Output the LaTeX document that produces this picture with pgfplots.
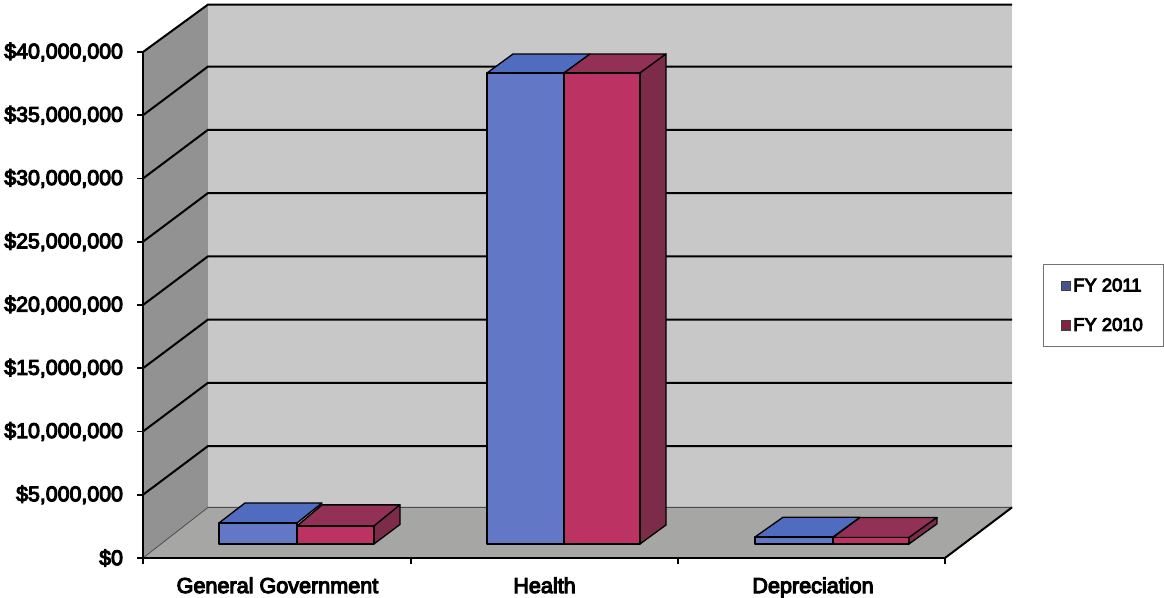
\documentclass[border=0pt]{standalone}
\usepackage{fontspec}
\setmainfont[RawFeature={embolden=5}]{Liberation Sans}
\usepackage{pgfplots}
\pgfplotsset{compat=1.18}

% y is in millions of dollars, x is in picture pixels (1px = 0.75pt)
\definecolor{wallc}{HTML}{C9C8C8}
\definecolor{sidec}{HTML}{929292}
\definecolor{floorc}{HTML}{A6A6A4}
\definecolor{bluef}{HTML}{6278C6}
\definecolor{bluet}{HTML}{4F6CC0}
\definecolor{redf}{HTML}{BC3262}
\definecolor{redt}{HTML}{923056}
\definecolor{reds}{HTML}{7C2C48}

\pgfplotsset{
  face/.style={draw=black,line width=1pt,line join=round,fill=#1,forget plot},
  gridl/.style={draw=black,line width=1.5pt,forget plot},
}

\begin{document}
\begin{tikzpicture}
\path[use as bounding box] (0,0) rectangle (873pt,448.5pt);
\begin{axis}[
  at={(107.25pt,30pt)},anchor=south west,
  scale only axis,width=601.5pt,height=379.5pt,
  xmin=143,xmax=945,ymin=0,ymax=40,
  clip=false,axis on top,
  axis x line*=bottom,axis y line*=left,
  axis line style={line width=1.4pt,-},
  tick style={black,line width=1.2pt},
  tick align=outside,major tick length=4.5pt,
  xtick={143,411,678,945},xticklabels={},
  extra x ticks={277.5,544.5,813},
  extra x tick labels={General Government,Health,Depreciation},
  extra x tick style={major tick length=0pt,
    xticklabel style={font=\fontsize{16.2}{18}\selectfont,yshift=-11pt}},
  ytick={0,5,10,15,20,25,30,35,40},
  yticklabels={{\$0},{\$5,000,000},{\$10,000,000},{\$15,000,000},{\$20,000,000},{\$25,000,000},{\$30,000,000},{\$35,000,000},{\$40,000,000}},
  yticklabel style={font=\fontsize{16}{18}\selectfont,xshift=-7pt},
  legend style={at={(axis cs:1043,23.24)},anchor=north west,
    draw=black!55,line width=.8pt,
    font=\fontsize{13.8}{15}\selectfont,
    row sep=14.5pt,inner xsep=13.5pt,inner ysep=8.5pt,
    /tikz/column 2/.style={column sep=5.5pt},
    legend cell align=left},
  legend image post style={xshift=4pt},
]
% walls and floor
\addplot[draw=none,fill=sidec,forget plot] coordinates {(143,0)(208,4)(208,43.75)(143,40)} --cycle;
\addplot[draw=none,fill=wallc,forget plot] coordinates {(208,4)(1012,4)(1012,43.75)(208,43.75)} --cycle;
\addplot[draw=none,fill=floorc,forget plot] coordinates {(143,0)(945,0)(1012,4)(208,4)} --cycle;
\addplot[draw=black!70,line width=.6pt,forget plot] coordinates {(143,0)(208,4)(1012,4)};
\addplot[gridl] coordinates {(945,0)(1012,4)};
% gridlines, back wall then side wall
\addplot[gridl] coordinates {(143,5)(208,8.85)(1012,8.85)};
\addplot[gridl] coordinates {(143,10)(208,13.85)(1012,13.85)};
\addplot[gridl] coordinates {(143,15)(208,18.85)(1012,18.85)};
\addplot[gridl] coordinates {(143,20)(208,23.85)(1012,23.85)};
\addplot[gridl] coordinates {(143,25)(208,28.85)(1012,28.85)};
\addplot[gridl] coordinates {(143,30)(208,33.85)(1012,33.85)};
\addplot[gridl] coordinates {(143,35)(208,38.85)(1012,38.85)};
\addplot[gridl] coordinates {(143,40)(208,43.75)(1012,43.75)};
% General Government
\addplot[face=bluet] coordinates {(219,2.77)(245,4.35)(322,4.35)(297,2.77)} --cycle;
\addplot[face=bluef] coordinates {(219,1.11)(297,1.11)(297,2.77)(219,2.77)} --cycle;
\addplot[face=redt] coordinates {(297,2.53)(322,4.2)(400,4.2)(374,2.53)} --cycle;
\addplot[face=reds] coordinates {(374,1.11)(400,2.65)(400,4.2)(374,2.53)} --cycle;
\addplot[face=redf] coordinates {(297,1.11)(374,1.11)(374,2.53)(297,2.53)} --cycle;
% Health
\addplot[face=bluet] coordinates {(487,38.34)(513,39.84)(590,39.84)(564,38.34)} --cycle;
\addplot[face=bluef] coordinates {(487,1.11)(564,1.11)(564,38.34)(487,38.34)} --cycle;
\addplot[face=redt] coordinates {(564,38.34)(590,39.84)(666,39.84)(640,38.34)} --cycle;
\addplot[face=reds] coordinates {(640,1.11)(666,2.61)(666,39.84)(640,38.34)} --cycle;
\addplot[face=redf] coordinates {(564,1.11)(640,1.11)(640,38.34)(564,38.34)} --cycle;
% Depreciation
\addplot[face=bluet] coordinates {(755,1.66)(783,3.22)(860,3.22)(833,1.66)} --cycle;
\addplot[face=bluef] coordinates {(755,1.11)(833,1.11)(833,1.66)(755,1.66)} --cycle;
\addplot[face=redt] coordinates {(833,1.62)(860,3.2)(937,3.2)(909,1.62)} --cycle;
\addplot[face=reds] coordinates {(909,1.11)(937,2.7)(937,3.2)(909,1.62)} --cycle;
\addplot[face=redf] coordinates {(833,1.11)(909,1.11)(909,1.62)(833,1.62)} --cycle;
% legend
\addlegendimage{only marks,mark=square*,mark size=3.4pt,mark options={fill=bluef!70!black,draw=black!75,line width=.8pt}}
\addlegendentry{FY 2011}
\addlegendimage{only marks,mark=square*,mark size=3.4pt,mark options={fill=redf!70!black,draw=black!75,line width=.8pt}}
\addlegendentry{FY 2010}
\end{axis}
\end{tikzpicture}
\end{document}
